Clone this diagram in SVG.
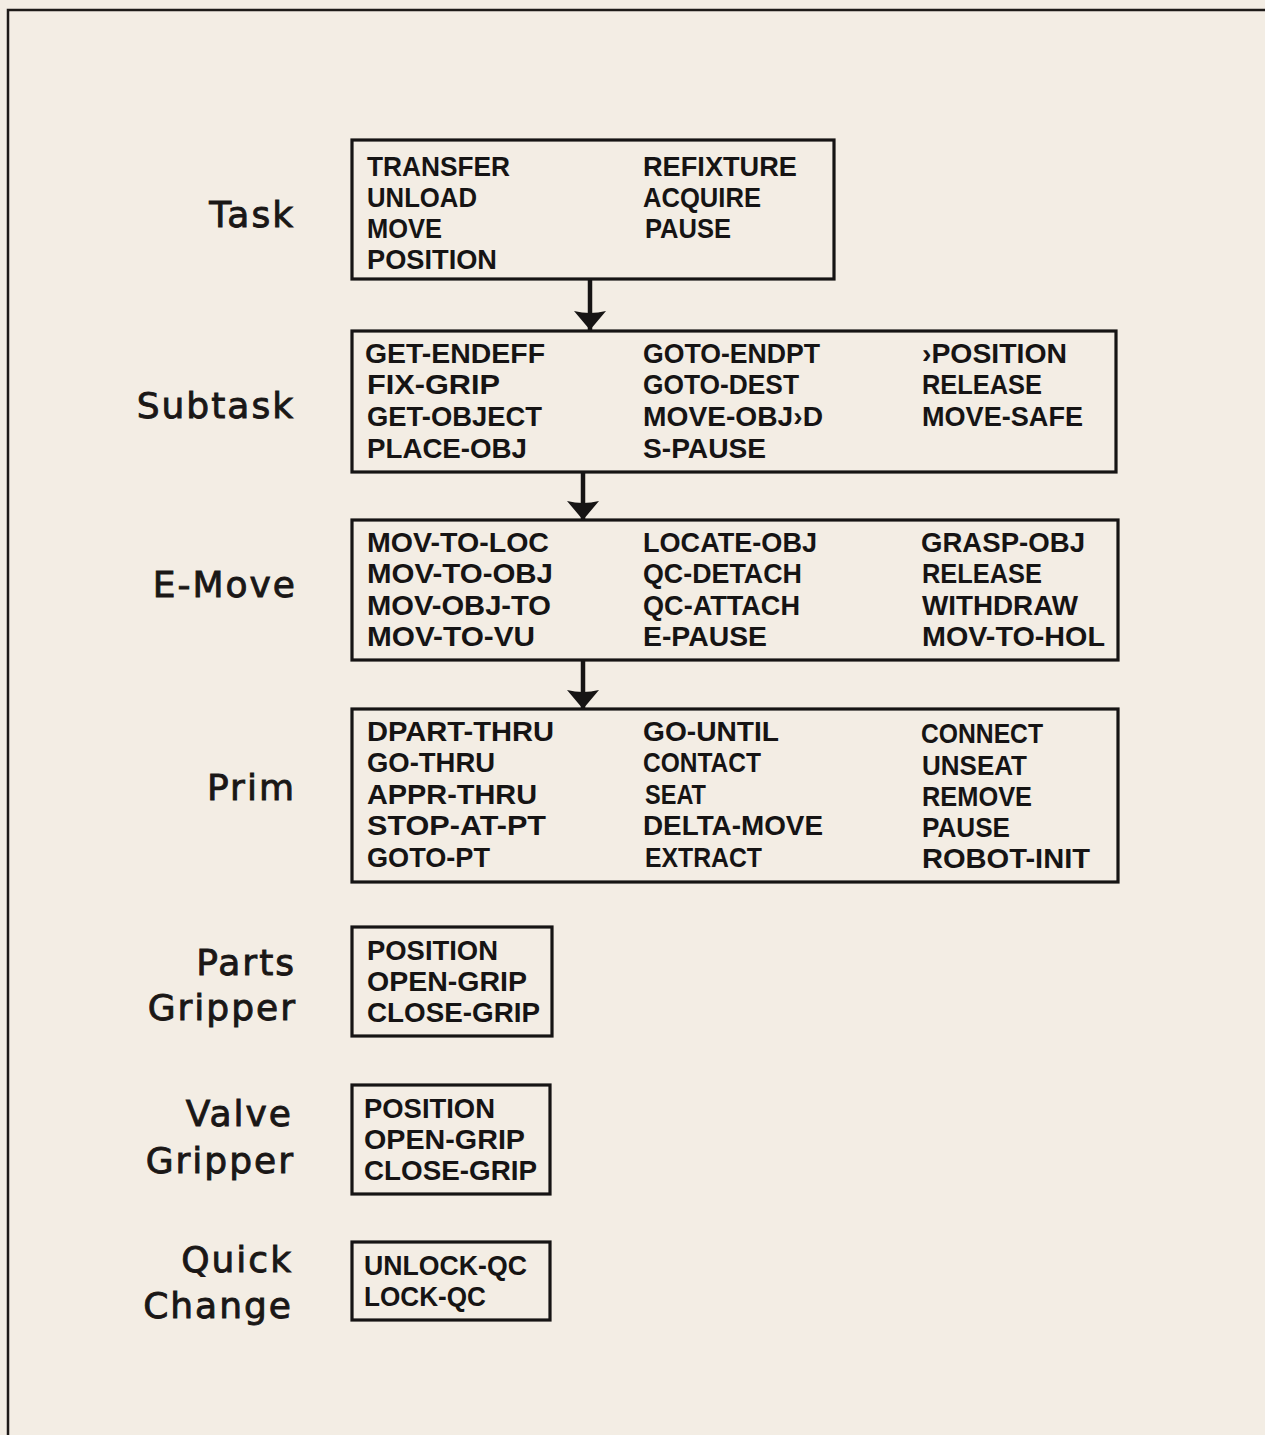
<svg xmlns="http://www.w3.org/2000/svg" width="1265" height="1435" viewBox="0 0 1265 1435">
  <defs>
    <style>
      .frame { fill: none; stroke: #1e1a18; stroke-width: 2.5; }
      .box { fill: none; stroke: #161414; stroke-width: 3.2; }
      .lvl { font-family: "DejaVu Sans", "Liberation Sans", sans-serif; font-size: 36px; fill: #1a1716; stroke: #1a1716; stroke-width: 0.9; text-anchor: end; letter-spacing: 2px; }
      .cmd { font-family: "Liberation Sans", Arial, sans-serif; font-weight: bold; font-size: 28.5px; fill: #161414; }
      .link { stroke: #161414; stroke-width: 4.5; fill: none; }
    </style>
    <marker id="head" markerUnits="userSpaceOnUse" viewBox="0 -17 20 34" refX="19" refY="0" markerWidth="20" markerHeight="34" orient="auto">
      <path d="M0,-16 Q4,0 0,16 L19,0 Z" fill="#161414"/>
    </marker>
  </defs>

  <rect width="1265" height="1435" fill="#f3ede4"/>
  <rect class="frame" x="8" y="10" width="1280" height="1450"/>

  <!-- level labels -->
  <g id="labels">
    <text class="lvl" x="295" y="227">Task</text>
    <text class="lvl" x="295" y="418">Subtask</text>
    <text class="lvl" x="297" y="597">E-Move</text>
    <text class="lvl" x="296" y="800">Prim</text>
    <text class="lvl" x="296" y="975">Parts</text>
    <text class="lvl" x="297" y="1020">Gripper</text>
    <text class="lvl" x="293" y="1126">Valve</text>
    <text class="lvl" x="295" y="1173">Gripper</text>
    <text class="lvl" x="293" y="1272">Quick</text>
    <text class="lvl" x="293" y="1318">Change</text>
  </g>

  <!-- connectors between levels -->
  <g id="connectors">
    <line class="link" x1="590" y1="279" x2="590" y2="330" marker-end="url(#head)"/>
    <line class="link" x1="583" y1="472" x2="583" y2="520" marker-end="url(#head)"/>
    <line class="link" x1="583" y1="660" x2="583" y2="709" marker-end="url(#head)"/>
  </g>

  <g id="task">
    <rect class="box" x="352" y="140" width="482" height="139"/>
    <text class="cmd" x="367" y="176" textLength="143" lengthAdjust="spacingAndGlyphs">TRANSFER</text>
    <text class="cmd" x="367" y="207" textLength="110" lengthAdjust="spacingAndGlyphs">UNLOAD</text>
    <text class="cmd" x="367" y="238" textLength="75" lengthAdjust="spacingAndGlyphs">MOVE</text>
    <text class="cmd" x="367" y="269" textLength="130" lengthAdjust="spacingAndGlyphs">POSITION</text>
    <text class="cmd" x="643" y="176" textLength="154" lengthAdjust="spacingAndGlyphs">REFIXTURE</text>
    <text class="cmd" x="643" y="207" textLength="118" lengthAdjust="spacingAndGlyphs">ACQUIRE</text>
    <text class="cmd" x="645" y="238" textLength="86" lengthAdjust="spacingAndGlyphs">PAUSE</text>
  </g>

  <g id="subtask">
    <rect class="box" x="352" y="331" width="764" height="141"/>
    <text class="cmd" x="365" y="363" textLength="180" lengthAdjust="spacingAndGlyphs">GET-ENDEFF</text>
    <text class="cmd" x="367" y="394" textLength="133" lengthAdjust="spacingAndGlyphs">FIX-GRIP</text>
    <text class="cmd" x="367" y="426" textLength="175" lengthAdjust="spacingAndGlyphs">GET-OBJECT</text>
    <text class="cmd" x="367" y="458" textLength="160" lengthAdjust="spacingAndGlyphs">PLACE-OBJ</text>
    <text class="cmd" x="643" y="363" textLength="177" lengthAdjust="spacingAndGlyphs">GOTO-ENDPT</text>
    <text class="cmd" x="643" y="394" textLength="156" lengthAdjust="spacingAndGlyphs">GOTO-DEST</text>
    <text class="cmd" x="643" y="426" textLength="180" lengthAdjust="spacingAndGlyphs">MOVE-OBJ›D</text>
    <text class="cmd" x="643" y="458" textLength="123" lengthAdjust="spacingAndGlyphs">S-PAUSE</text>
    <text class="cmd" x="922" y="363" textLength="145" lengthAdjust="spacingAndGlyphs">›POSITION</text>
    <text class="cmd" x="922" y="394" textLength="120" lengthAdjust="spacingAndGlyphs">RELEASE</text>
    <text class="cmd" x="922" y="426" textLength="161" lengthAdjust="spacingAndGlyphs">MOVE-SAFE</text>
  </g>

  <g id="emove">
    <rect class="box" x="352" y="520" width="766" height="140"/>
    <text class="cmd" x="367" y="552" textLength="182" lengthAdjust="spacingAndGlyphs">MOV-TO-LOC</text>
    <text class="cmd" x="367" y="583" textLength="186" lengthAdjust="spacingAndGlyphs">MOV-TO-OBJ</text>
    <text class="cmd" x="367" y="615" textLength="184" lengthAdjust="spacingAndGlyphs">MOV-OBJ-TO</text>
    <text class="cmd" x="367" y="646" textLength="168" lengthAdjust="spacingAndGlyphs">MOV-TO-VU</text>
    <text class="cmd" x="643" y="552" textLength="174" lengthAdjust="spacingAndGlyphs">LOCATE-OBJ</text>
    <text class="cmd" x="643" y="583" textLength="159" lengthAdjust="spacingAndGlyphs">QC-DETACH</text>
    <text class="cmd" x="643" y="615" textLength="157" lengthAdjust="spacingAndGlyphs">QC-ATTACH</text>
    <text class="cmd" x="643" y="646" textLength="124" lengthAdjust="spacingAndGlyphs">E-PAUSE</text>
    <text class="cmd" x="921" y="552" textLength="164" lengthAdjust="spacingAndGlyphs">GRASP-OBJ</text>
    <text class="cmd" x="922" y="583" textLength="120" lengthAdjust="spacingAndGlyphs">RELEASE</text>
    <text class="cmd" x="922" y="615" textLength="156" lengthAdjust="spacingAndGlyphs">WITHDRAW</text>
    <text class="cmd" x="922" y="646" textLength="183" lengthAdjust="spacingAndGlyphs">MOV-TO-HOL</text>
  </g>

  <g id="prim">
    <rect class="box" x="352" y="709" width="766" height="173"/>
    <text class="cmd" x="367" y="741" textLength="187" lengthAdjust="spacingAndGlyphs">DPART-THRU</text>
    <text class="cmd" x="367" y="772" textLength="128" lengthAdjust="spacingAndGlyphs">GO-THRU</text>
    <text class="cmd" x="367" y="804" textLength="170" lengthAdjust="spacingAndGlyphs">APPR-THRU</text>
    <text class="cmd" x="367" y="835" textLength="179" lengthAdjust="spacingAndGlyphs">STOP-AT-PT</text>
    <text class="cmd" x="367" y="867" textLength="123" lengthAdjust="spacingAndGlyphs">GOTO-PT</text>
    <text class="cmd" x="643" y="741" textLength="136" lengthAdjust="spacingAndGlyphs">GO-UNTIL</text>
    <text class="cmd" x="643" y="772" textLength="118" lengthAdjust="spacingAndGlyphs">CONTACT</text>
    <text class="cmd" x="645" y="804" textLength="61" lengthAdjust="spacingAndGlyphs">SEAT</text>
    <text class="cmd" x="643" y="835" textLength="180" lengthAdjust="spacingAndGlyphs">DELTA-MOVE</text>
    <text class="cmd" x="645" y="867" textLength="117" lengthAdjust="spacingAndGlyphs">EXTRACT</text>
    <text class="cmd" x="921" y="743" textLength="122" lengthAdjust="spacingAndGlyphs">CONNECT</text>
    <text class="cmd" x="922" y="775" textLength="105" lengthAdjust="spacingAndGlyphs">UNSEAT</text>
    <text class="cmd" x="922" y="806" textLength="110" lengthAdjust="spacingAndGlyphs">REMOVE</text>
    <text class="cmd" x="922" y="837" textLength="88" lengthAdjust="spacingAndGlyphs">PAUSE</text>
    <text class="cmd" x="922" y="868" textLength="168" lengthAdjust="spacingAndGlyphs">ROBOT-INIT</text>
  </g>

  <g id="parts-gripper">
    <rect class="box" x="352" y="927" width="200" height="109"/>
    <text class="cmd" x="367" y="960" textLength="131" lengthAdjust="spacingAndGlyphs">POSITION</text>
    <text class="cmd" x="367" y="991" textLength="160" lengthAdjust="spacingAndGlyphs">OPEN-GRIP</text>
    <text class="cmd" x="367" y="1022" textLength="173" lengthAdjust="spacingAndGlyphs">CLOSE-GRIP</text>
  </g>

  <g id="valve-gripper">
    <rect class="box" x="352" y="1085" width="198" height="109"/>
    <text class="cmd" x="364" y="1118" textLength="131" lengthAdjust="spacingAndGlyphs">POSITION</text>
    <text class="cmd" x="364" y="1149" textLength="161" lengthAdjust="spacingAndGlyphs">OPEN-GRIP</text>
    <text class="cmd" x="364" y="1180" textLength="173" lengthAdjust="spacingAndGlyphs">CLOSE-GRIP</text>
  </g>

  <g id="quick-change">
    <rect class="box" x="352" y="1242" width="198" height="78"/>
    <text class="cmd" x="364" y="1275" textLength="163" lengthAdjust="spacingAndGlyphs">UNLOCK-QC</text>
    <text class="cmd" x="364" y="1306" textLength="122" lengthAdjust="spacingAndGlyphs">LOCK-QC</text>
  </g>
</svg>
